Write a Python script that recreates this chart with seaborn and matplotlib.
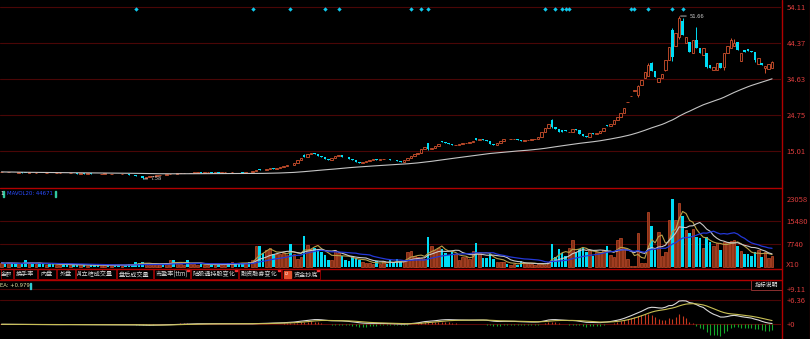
import numpy as np
import pandas as pd
import matplotlib
matplotlib.use("Agg")
import matplotlib.pyplot as plt
from matplotlib.patches import Rectangle
from matplotlib.transforms import blended_transform_factory
import seaborn as sns

# ---------------- daily data ----------------
opens = [
    9.44, 9.50, 9.40, 9.48, 9.40, 9.32, 9.38, 9.30, 9.25, 9.31,
    9.22, 9.28, 9.24, 9.18, 9.22, 9.15, 9.10, 9.17, 9.25, 9.18,
    9.12, 9.18, 9.10, 9.04, 9.10, 9.02, 9.08, 9.00, 8.94, 8.90,
    8.98, 9.02, 8.92, 8.98, 8.88, 8.84, 8.90, 8.80, 8.72, 8.62,
    8.50, 8.30, 7.90, 8.10, 8.35, 8.50, 8.62, 8.70, 8.60, 8.80,
    9.00, 8.95, 9.15, 9.22, 9.28, 9.20, 9.25, 9.32, 9.40, 9.30,
    9.34, 9.40, 9.32, 9.38, 9.30, 9.36, 9.42, 9.35, 9.46, 9.40,
    9.34, 9.30, 9.42, 9.38, 9.70, 10.30, 10.05, 9.95, 10.30, 10.55,
    10.40, 10.50, 10.70, 10.95, 11.40, 11.30, 12.00, 12.60, 14.00, 13.50,
    14.20, 14.70, 14.30, 13.90, 13.40, 12.90, 12.80, 13.20, 13.80, 14.10,
    13.60, 13.40, 13.10, 12.80, 12.30, 12.00, 12.20, 12.50, 12.80, 13.00,
    12.80, 12.90, 12.95, 12.85, 12.70, 12.60, 12.40, 12.30, 12.70, 13.20,
    13.80, 14.20, 14.70, 15.60, 17.20, 15.60, 15.90, 16.50, 17.80, 17.50,
    17.30, 17.10, 16.70, 16.90, 17.10, 17.20, 17.30, 17.60, 18.60, 18.20,
    18.30, 18.10, 17.90, 17.00, 16.70, 17.20, 17.80, 18.50, 18.30, 18.35,
    18.40, 18.20, 17.90, 18.10, 18.15, 18.30, 18.50, 19.00, 20.40, 21.30,
    23.50, 21.70, 21.10, 20.70, 20.80, 20.20, 20.40, 21.10, 20.70, 19.70,
    19.20, 19.00, 20.10, 19.80, 20.10, 20.60, 22.30, 21.90, 22.40, 23.50,
    24.30, 25.50, 28.40, 29.90, 31.50, 30.20, 33.00, 34.80, 35.40, 39.00,
    36.90, 33.90, 34.80, 37.10, 39.80, 47.90, 43.60, 46.00, 50.40, 44.30,
    44.70, 41.60, 45.20, 42.90, 41.10, 41.60, 38.50, 37.10, 37.10, 38.90,
    37.80, 41.60, 42.90, 43.50, 44.70, 39.50, 42.50, 42.70, 42.20, 41.90,
    38.60, 39.00, 37.60, 37.40, 37.60,
]
closes = [
    9.50, 9.42, 9.48, 9.40, 9.33, 9.38, 9.30, 9.26, 9.31, 9.22,
    9.28, 9.24, 9.18, 9.22, 9.15, 9.10, 9.17, 9.25, 9.18, 9.12,
    9.18, 9.10, 9.04, 9.10, 9.02, 9.08, 9.00, 8.94, 8.90, 8.98,
    9.02, 8.92, 8.98, 8.88, 8.84, 8.90, 8.80, 8.72, 8.62, 8.50,
    8.30, 7.95, 8.10, 8.35, 8.50, 8.62, 8.70, 8.60, 8.80, 9.00,
    8.95, 9.15, 9.22, 9.28, 9.20, 9.25, 9.32, 9.40, 9.30, 9.34,
    9.40, 9.32, 9.38, 9.30, 9.36, 9.42, 9.35, 9.46, 9.40, 9.34,
    9.30, 9.42, 9.38, 9.70, 10.10, 10.05, 9.95, 10.30, 10.55, 10.40,
    10.50, 10.70, 10.95, 11.40, 11.30, 12.00, 12.60, 13.30, 13.50, 14.20,
    14.50, 14.30, 13.90, 13.40, 12.90, 12.80, 13.20, 13.80, 14.10, 13.60,
    13.40, 13.10, 12.80, 12.30, 12.00, 12.20, 12.50, 12.80, 13.00, 12.80,
    12.90, 12.95, 12.85, 12.70, 12.60, 12.40, 12.30, 12.70, 13.20, 13.80,
    14.20, 14.70, 15.60, 16.30, 15.60, 15.90, 16.50, 17.00, 17.50, 17.30,
    17.10, 16.70, 16.90, 17.10, 17.20, 17.30, 17.60, 17.90, 18.20, 18.30,
    18.10, 17.90, 17.00, 16.70, 17.20, 17.80, 18.50, 18.30, 18.35, 18.40,
    18.20, 17.90, 18.10, 18.15, 18.30, 18.50, 19.00, 20.40, 21.30, 22.40,
    21.70, 21.10, 20.40, 20.40, 20.50, 20.40, 21.10, 20.70, 19.70, 19.20,
    19.00, 20.10, 19.80, 20.10, 20.60, 21.50, 21.90, 22.40, 23.50, 24.30,
    25.30, 26.90, 28.50, 30.00, 31.60, 32.70, 34.40, 36.60, 38.40, 36.90,
    35.20, 34.80, 36.00, 39.80, 43.40, 40.70, 47.00, 51.20, 46.50, 46.00,
    42.00, 45.20, 42.90, 41.60, 42.90, 38.00, 37.50, 38.00, 38.90, 37.50,
    41.60, 43.60, 45.20, 44.50, 42.50, 41.60, 42.00, 42.30, 41.90, 39.90,
    40.20, 38.40, 38.20, 38.60, 39.20,
]
# shadows that reach beyond the candle body (index -> price)
wick_highs = {88: 14.3, 124: 17.4, 160: 23.8, 185: 33.0, 188: 39.0, 189: 39.3,
              195: 48.3, 197: 51.66, 198: 51.0, 202: 48.6, 212: 45.8,
              213: 45.5, 224: 39.6}
wick_lows = {41: 7.58, 124: 15.4, 160: 21.5, 185: 29.8, 193: 36.8, 195: 39.5,
             197: 45.5, 205: 37.6, 210: 37.0, 219: 39.3, 222: 36.3}
volumes = [
    1500, 1200, 1600, 1300, 1100, 1400, 1000, 2400, 1300, 1200,
    1100, 1500, 1200, 900, 1000, 1300, 800, 900, 1000, 800,
    900, 700, 800, 1000, 700, 600, 800, 700, 900, 600,
    700, 800, 600, 700, 900, 600, 700, 1200, 800, 1700,
    1400, 1800, 1100, 900, 1000, 1200, 900, 800, 1000, 2400,
    2500, 1300, 1000, 900, 2300, 1100, 1200, 900, 1000, 800,
    900, 1000, 800, 1100, 900, 1000, 1300, 1800, 1200, 1400,
    1500, 1300, 1800, 2600, 7200, 7100, 4700, 5700, 6400, 4500,
    4400, 4600, 4800, 4200, 7700, 4600, 2900, 3600, 10400, 7400,
    6300, 6600, 6000, 5200, 4000, 2600, 2400, 5700, 4800, 3700,
    2400, 2100, 3700, 3100, 2400, 1800, 1500, 1300, 1200, 2000,
    1200, 2000, 1200, 2300, 1700, 2800, 1700, 2300, 5000, 5500,
    3700, 3300, 3000, 2900, 10200, 7000, 5900, 6400, 6300, 4800,
    4100, 5200, 4600, 2300, 3300, 3300, 2700, 5500, 8200, 4800,
    3000, 3000, 4400, 2700, 1700, 1900, 1700, 1200, 900, 1200,
    900, 2100, 1400, 1400, 1200, 900, 1200, 1200, 900, 1800,
    8000, 3600, 6100, 4900, 3800, 6600, 9100, 5200, 6100, 6400,
    5200, 5800, 3800, 5200, 4700, 5800, 7100, 4200, 3400, 9200,
    9700, 6400, 2700, 450, 450, 11650, 1350, 1350, 18700, 13900,
    5830, 11990, 3810, 5260, 15920, 23058, 15920, 21750, 17270, 12550,
    11440, 12790, 10310, 9750, 6390, 10310, 8630, 7280, 8070, 5830,
    8630, 8630, 8970, 9190, 7280, 5600, 4490, 4490, 3810, 5260,
    5830, 3580, 5260, 3030, 3810,
]
signal_days = [39, 73, 84, 94, 98, 119, 122, 124, 158, 161, 163, 164, 165,
               183, 184, 188, 195, 198]

price_ticks = [15.01, 24.75, 34.63, 44.37, 54.11]
volume_ticks = [7740, 15480, 23058]
macd_ticks = [0, 6.36, 9.11]
tabs = ["金额", "换手率", "内盘", "外盘", "AI立桩成交量", "盘后成交量",
        "市盈率(ttm)", "陆股通持股变化", "融资融券变化", "资金抄底"]
tab_edges = [0, 13, 37, 56, 75, 116, 153, 190, 238, 281, 320]
volume_header = "MAVOL20: 44671"
macd_header = "EA: +0.979"

# ---------------- derived series ----------------
df = pd.DataFrame({"open": opens, "close": closes, "vol": volumes})
n = len(df)
df["high"] = df[["open", "close"]].max(axis=1)
df["low"] = df[["open", "close"]].min(axis=1)
for k, v in wick_highs.items():
    df.loc[k, "high"] = v
for k, v in wick_lows.items():
    df.loc[k, "low"] = v
df["up"] = df["close"] >= df["open"]
df["ma60"] = df["close"].rolling(60, min_periods=1).mean()
df["mv5"] = df["vol"].rolling(5, min_periods=1).mean()
df["mv10"] = df["vol"].rolling(10, min_periods=1).mean()
df["mv20"] = df["vol"].rolling(20, min_periods=1).mean()
ema12 = df["close"].ewm(span=12, adjust=False).mean()
ema26 = df["close"].ewm(span=26, adjust=False).mean()
df["dif"] = ema12 - ema26
df["dea"] = df["dif"].ewm(span=9, adjust=False).mean()
df["hist"] = 2 * (df["dif"] - df["dea"])
idx = np.arange(n)

# ---------------- style ----------------
sns.set_theme(style="dark", rc={"axes.facecolor": "black",
                                "figure.facecolor": "black"})
plt.rcParams["font.family"] = ["Noto Sans CJK SC", "DejaVu Sans"]

RED = "#d2522e"
CYAN = "#00dcf5"
GRID = "#4a0606"
LINE = "#b00000"
LABEL = "#dc3c3c"

W, H = 810, 339
fig = plt.figure(figsize=(W / 100, H / 100), dpi=100, facecolor="black")


def panel(x0, y0, x1, y1):
    ax = fig.add_axes([x0 / W, 1 - y1 / H, (x1 - x0) / W, (y1 - y0) / H])
    ax.set_facecolor("black")
    for s in ax.spines.values():
        s.set_visible(False)
    ax.grid(False)
    ax.set_xlim(-0.44, 226.6)
    ax.set_xticks([])
    ax.yaxis.tick_right()
    ax.tick_params(axis="y", length=0, pad=4, labelsize=5.5, labelcolor=LABEL)
    return ax


up = df["up"].values
colors = np.where(up, RED, CYAN)

# ---------------- price panel ----------------
axp = panel(0, 0, 781, 187)
axp.set_ylim(5.40, 56.0)
for t in price_ticks:
    axp.axhline(t, color=GRID, lw=0.8, zorder=0)
axp.set_yticks(price_ticks)
axp.set_yticklabels([f"{t:.2f}" for t in price_ticks])
axp.vlines(idx, df["low"], df["high"], colors=colors, lw=0.7, zorder=2)
body_lo = df[["open", "close"]].min(axis=1).values
body_h = np.maximum((df["close"] - df["open"]).abs().values, 0.08)
axp.bar(idx[up], body_h[up], bottom=body_lo[up], width=0.74,
        facecolor="black", edgecolor=RED, linewidth=0.6, zorder=3)
axp.bar(idx[~up], body_h[~up], bottom=body_lo[~up], width=0.74,
        color=CYAN, linewidth=0, zorder=3)
sns.lineplot(x=idx, y=df["ma60"].values, ax=axp, color="#c4c4c4",
             linewidth=0.8, zorder=4, legend=False)
trans = blended_transform_factory(axp.transData, axp.transAxes)
axp.scatter(signal_days, [1 - 9 / 187] * len(signal_days), transform=trans,
            marker="D", s=5, color="#10c8ec", linewidths=0, zorder=5)
hi = int(df["high"].idxmax())
lo = int(df["low"].idxmin())
axp.annotate(f"{df.loc[hi, 'high']:.2f}", xy=(hi + 0.4, df.loc[hi, "high"]),
             xytext=(9, 0), textcoords="offset pixels", ha="left", va="center",
             fontsize=4.2, color="#d0d0d0",
             arrowprops=dict(arrowstyle="-", color="#d0d0d0", lw=0.6,
                             shrinkA=0, shrinkB=0))
axp.annotate(f"{df.loc[lo, 'low']:.2f}", xy=(lo + 0.4, df.loc[lo, "low"]),
             xytext=(7, 0), textcoords="offset pixels", ha="left", va="center",
             fontsize=4.2, color="#d0d0d0",
             arrowprops=dict(arrowstyle="-", color="#d0d0d0", lw=0.6,
                             shrinkA=0, shrinkB=0))
axp.set_xlabel("")
axp.set_ylabel("")
axp.set_xlim(-0.44, 226.6)

# ---------------- volume panel ----------------
axv = panel(0, 188, 781, 268)
axv.set_ylim(-235, 26685)
for t in volume_ticks[:2]:
    axv.axhline(t, color=GRID, lw=0.8, zorder=0)
axv.set_yticks(volume_ticks)
axv.set_yticklabels([str(t) for t in volume_ticks])
axv.bar(idx[up], df["vol"].values[up], width=0.74, facecolor="#853015",
        edgecolor="#c84c2a", linewidth=0.5, zorder=2)
axv.bar(idx[~up], df["vol"].values[~up], width=0.74, color=CYAN,
        linewidth=0, zorder=2)
sns.lineplot(x=idx, y=df["mv5"].values, ax=axv, color="#b8a048",
             linewidth=0.8, zorder=3, legend=False)
sns.lineplot(x=idx, y=df["mv10"].values, ax=axv, color="#c8c8c8",
             linewidth=0.8, zorder=3, legend=False)
sns.lineplot(x=idx, y=df["mv20"].values, ax=axv, color="#2438d8",
             linewidth=0.9, zorder=3, legend=False)
axv.set_xlabel("")
axv.set_ylabel("")
axv.set_xlim(-0.44, 226.6)

# ---------------- MACD panel ----------------
axm = panel(0, 280, 781, 339)
axm.set_ylim(-3.79, 11.43)
for t in macd_ticks:
    axm.axhline(t, color=GRID if t else "#5a0808", lw=0.8, zorder=0)
axm.set_yticks(macd_ticks)
axm.set_yticklabels([f"+{t:g}" for t in macd_ticks])
hist = df["hist"].values
axm.vlines(idx, 0, hist, colors=np.where(hist >= 0, "#c8381e", "#14a82a"),
           lw=0.8, zorder=2)
sns.lineplot(x=idx, y=df["dif"].values, ax=axm, color="#d8d8d8",
             linewidth=0.8, zorder=3, legend=False)
sns.lineplot(x=idx, y=df["dea"].values, ax=axm, color="#c8c055",
             linewidth=0.8, zorder=3, legend=False)
axm.set_xlabel("")
axm.set_ylabel("")
axm.set_xlim(-0.44, 226.6)

# ---------------- frame, tabs and headers ----------------
ov = fig.add_axes([0, 0, 1, 1], zorder=10)
ov.set_xlim(0, W)
ov.set_ylim(H, 0)
ov.axis("off")
ov.patch.set_alpha(0)

for y in (187.5, 268.5, 279.5):
    ov.plot([0, 781.5], [y, y], color=LINE, lw=1.0)
ov.plot([781.5, 781.5], [0, H], color=LINE, lw=1.0)
ov.plot([809.5, 809.5], [0, H], color="#600000", lw=1.0)

ov.text(786, 265, "X10", fontsize=5, color=LABEL, va="center", ha="left",
        family="DejaVu Sans")

for k, label in enumerate(tabs):
    x0, x1 = tab_edges[k], tab_edges[k + 1]
    ov.add_patch(Rectangle((x0 + 0.5, 269.2), x1 - x0 - 1, 9.6, fill=False,
                           edgecolor="#8a0000", lw=0.7))
    cx = (x0 + x1) / 2
    size = 4.4
    if label == "资金抄底":
        ov.add_patch(Rectangle((283.5, 270.5), 7, 7, color="#e4502c"))
        ov.text(287, 274, "L2", fontsize=2.6, color="white", ha="center",
                va="center", family="DejaVu Sans")
        cx = 306
    if k == 0:
        size = 4.0
    ov.text(cx, 274.2, label, fontsize=size, color="#d8d8d8", ha="center",
            va="center")
    if k >= 6:
        ov.add_patch(Rectangle((x1 - 3, 269.2), 1.6, 1.6, color="#ff3030"))

ov.add_patch(Rectangle((751, 279.5), 31, 10.5, facecolor="black",
                       edgecolor="#8a3030", lw=0.7))
ov.text(766.5, 284.8, "指标说明", fontsize=4.2, color="#e8e8e8",
        ha="center", va="center")

ov.text(0.3, 193.5, "1", fontsize=3.9, color="#e0e0e0", va="center",
        ha="left", family="DejaVu Sans")
ov.add_patch(Rectangle((3.2, 190.5), 1.2, 6, color="#30c8a0"))
ov.text(7, 193.5, volume_header, fontsize=3.9, color="#2a4cff", va="center",
        ha="left", family="DejaVu Sans")
ov.add_patch(Rectangle((54.5, 190.5), 1.2, 6, color="#30c8a0"))
ov.text(0.3, 285.5, macd_header, fontsize=3.8, color="#e0e0a0", va="center",
        ha="left", family="DejaVu Sans")
ov.add_patch(Rectangle((29.5, 282.5), 1.2, 6, color="#30c8d0"))

fig.savefig("out.png", dpi=100, facecolor="black")
